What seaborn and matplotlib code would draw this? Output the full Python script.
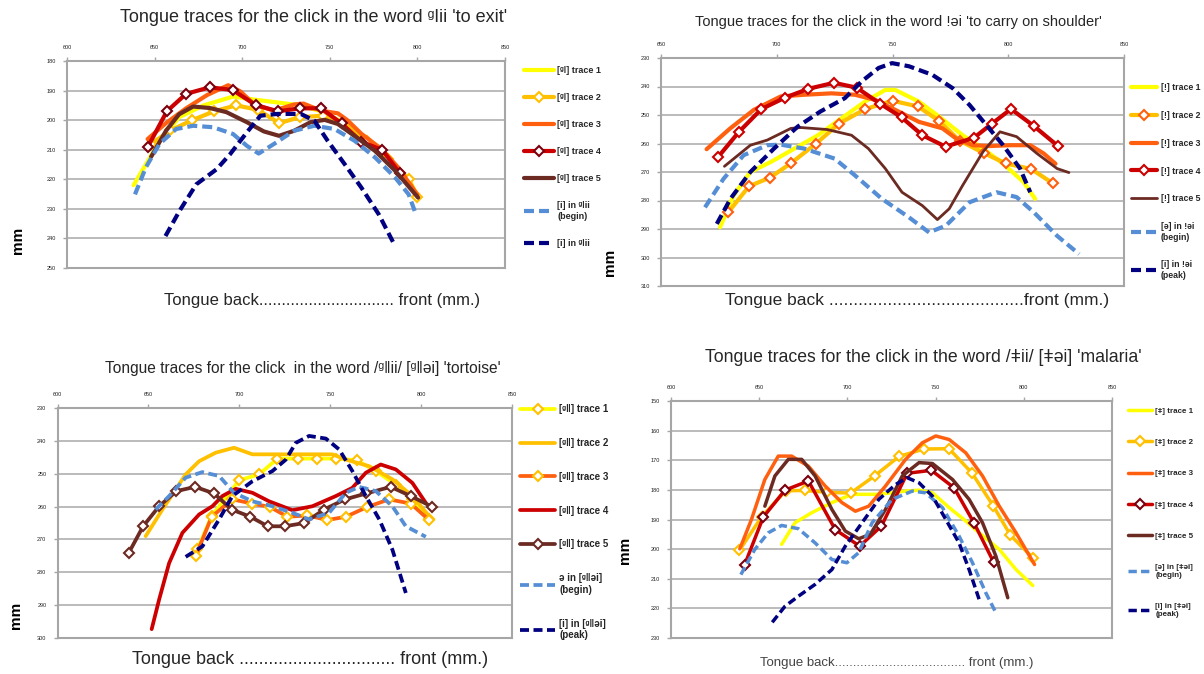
"""Four panels of tongue traces for click consonants"""

import seaborn as sns
import matplotlib.pyplot as plt

# ---- panel 1: word ᵍǀii 'to exit' ----
p1_t1_x = [638, 645, 653, 664, 678, 695, 706, 720, 733, 745, 755, 764, 776, 787, 795, 800]
p1_t1_y = [222, 215, 207, 199, 195, 192, 193, 194, 195, 197, 200, 204, 210, 215, 220, 225.5]
p1_t2_x = [648, 659, 671.5, 684, 696.5, 709, 721, 733, 746, 758, 771, 783, 795, 800]
p1_t2_y = [208, 203.5, 200, 197, 195, 196.5, 201, 199, 198.5, 201, 207, 213, 220, 226]
p1_t3_x = [646, 656.5, 668, 680, 692, 699, 706.5, 718, 729.6, 735, 745, 754.6, 760, 768, 779.6, 789, 800]
p1_t3_y = [206.4, 201, 196, 191.5, 188.2, 190.3, 194.5, 196.8, 194.7, 194.4, 196.8, 197.7, 200, 204.6, 209.8, 216, 225.2]
p1_t4_x = [646, 657, 668, 681.5, 694.5, 708, 720.5, 733, 745, 756.7, 768, 780, 790]
p1_t4_y = [209.2, 197, 191.1, 188.9, 189.8, 195, 197, 196, 196, 201.1, 207.3, 210.1, 218]
p1_t5_x = [648, 656.5, 664, 672, 681.5, 691, 702.7, 712.3, 721, 729.6, 739, 747, 754.6, 764, 775.8, 787.3, 800.4]
p1_t5_y = [212.4, 203.6, 198, 195.4, 195.9, 197.3, 200.7, 203.8, 205.3, 203.6, 200.7, 199.9, 201.3, 205.3, 210.4, 217.1, 226.2]
p1_begin_x = [638.8, 645, 652.7, 662.3, 672, 683.5, 694.8, 702.7, 709.4, 718, 729.6, 741.2, 752.7, 764.2, 775.8, 787.3, 795, 799.2]
p1_begin_y = [225.1, 216, 208.1, 203, 201.9, 202.4, 204.7, 208.7, 211.3, 208.1, 203.6, 201.9, 203, 207, 212.6, 219.4, 225.1, 231.9]
p1_peak_x = [656.2, 664.2, 673.8, 685.4, 693.1, 702.7, 710.4, 720, 733.5, 741.2, 748.8, 758.5, 768, 778, 787.3]
p1_peak_y = [239.2, 230.7, 221.7, 216.6, 211.5, 204.1, 198.5, 197.9, 197.9, 200.2, 207, 214.9, 222.8, 231.9, 242.6]

# ---- panel 2: word ǃəi 'to carry on shoulder' ----
p2_t1_x = [675.5, 681.4, 688.6, 697.4, 707.6, 717.8, 727.9, 738.1, 746.9, 751.2, 761.4, 770.2, 780.3, 789.1, 797.8, 806.6, 811.6]
p2_t1_y = [289.4, 278.2, 270, 266.5, 261.8, 257.1, 251.2, 245.3, 241.2, 241.2, 245.3, 250.6, 257.1, 261.8, 267.1, 273.5, 279.4]
p2_t2_x = [679, 688, 697, 706, 717, 727, 738, 750, 761, 770, 779, 789.5, 799, 810, 819.3]
p2_t2_y = [284.2, 275, 272, 267, 260, 253, 248, 245, 247, 252, 259, 263.4, 267, 269, 274]
p2_t3_x = [669.7, 679.9, 690.1, 701.7, 711.9, 723.6, 733.8, 742.5, 751.2, 761.4, 771.6, 777.4, 784.7, 792, 800.7, 809.5, 815.3, 820.4]
p2_t3_y = [262, 254.7, 248.2, 243.5, 242.9, 242.4, 242.9, 244.7, 248.2, 252.4, 254.7, 258.2, 260.6, 260.9, 260.6, 260.6, 263.5, 267.1]
p2_t4_x = [674.5, 683.7, 693.4, 703.6, 713.7, 724.7, 734.5, 744.8, 753.9, 762.9, 772.9, 785.2, 793, 801.2, 811.1, 821.5]
p2_t4_y = [264.9, 255.9, 247.9, 243.9, 240.8, 238.7, 240.4, 246.1, 250.8, 257.1, 261.1, 258, 253, 247.9, 253.9, 260.9]
p2_t5_x = [677.4, 688.6, 695.9, 706.1, 710.5, 721.8, 732.3, 739.6, 746.9, 754.1, 762.9, 769.4, 774.5, 780.3, 789.1, 796.4, 803.6, 812.4, 821.1, 826.2]
p2_t5_y = [268, 260.6, 258.8, 254.7, 254.4, 255.1, 257.1, 261.8, 268.8, 277.1, 281.8, 286.7, 282.9, 274.7, 262.9, 255.9, 257.6, 263.5, 268.8, 270.2]
p2_begin_x = [669, 677, 685.7, 695.9, 701.7, 711.9, 725, 733.8, 745.4, 757.1, 765.8, 773.1, 783.3, 794.9, 803.6, 811, 821.1, 830.6]
p2_begin_y = [282.4, 272.4, 264.1, 260.6, 260.4, 261.8, 265.3, 271.2, 279.4, 285.9, 291.2, 288.8, 280.6, 277.1, 278.8, 284.1, 292.4, 298.8]
p2_peak_x = [674.1, 680, 688.6, 698.8, 709, 718.8, 729.4, 736.7, 744, 749.8, 757.1, 767.2, 776, 783.3, 790.5, 797.8, 805.1, 809.5]
p2_peak_y = [288.2, 279.4, 270, 261.8, 254.1, 248.8, 244.1, 238.2, 233.5, 231.8, 232.9, 235.9, 240.6, 246.5, 253.5, 260.6, 268.8, 277.1]

# ---- panel 3: word ᵍǁii 'tortoise' ----
p3_t1_x = [677, 684.8, 699.9, 710.9, 721, 732.5, 742.6, 753.4, 764.6, 775, 786.1, 795.2, 804.4]
p3_t1_y = [273, 262.9, 252, 250.2, 245.4, 245.4, 245.4, 245.4, 245.9, 249.2, 253.3, 257.8, 263.7]
p3_t2_x = [648.5, 657.7, 670.5, 677.9, 687, 697.1, 707.2, 718.2, 732.9, 751.2, 758.6, 771.4, 784.2, 795.2, 804.4]
p3_t2_y = [269, 260.9, 250.2, 246.2, 243.6, 242.1, 244.1, 244.1, 244.1, 244.1, 245.7, 247.7, 251.7, 256.8, 262.9]
p3_t3_x = [676, 684.8, 696.2, 707.2, 716.8, 726.5, 737.5, 748.5, 758.6, 770.5, 782.4, 794.3, 804.4]
p3_t3_y = [275.1, 263.1, 257.8, 259.1, 260.1, 263.1, 262.7, 264.1, 263.1, 260.1, 257.8, 259.1, 264.1]
p3_t4_x = [651.8, 655.9, 661.4, 668.7, 677.9, 685.2, 690.7, 698, 707.2, 716.4, 729.2, 740.2, 753.1, 762.2, 769.6, 777.8, 786.1, 795.2, 802.6]
p3_t4_y = [297.3, 288.3, 277.2, 268, 262.4, 259.9, 256.8, 254.6, 255.8, 258.4, 261.1, 259.9, 256.8, 254.3, 249.7, 247.2, 248.7, 252.8, 258.9]
p3_t5_x = [639.2, 647.1, 655.9, 665.4, 675.7, 686.1, 695.8, 706.1, 715.7, 725, 735.8, 746.6, 758.2, 769.9, 783.3, 794.3, 806.2]
p3_t5_y = [274.1, 266, 259.9, 255.3, 254, 256, 260.9, 263.1, 266, 266, 265, 260.9, 257.8, 256, 254, 256.8, 260.1]
p3_begin_x = [654, 661.4, 670.5, 679.7, 688.9, 697.1, 707.2, 718.2, 729.2, 738.4, 749.4, 758.6, 765.9, 775.1, 784.2, 791.6, 802.6]
p3_begin_y = [260.9, 256.8, 251.2, 249.5, 250.7, 255.8, 258.4, 259.9, 261.9, 263.9, 261.9, 255.8, 254, 255.3, 259.9, 266, 269.2]
p3_peak_x = [670.5, 679.7, 688.9, 696.2, 707.2, 718.2, 725.6, 731.1, 738.4, 747.6, 754.9, 762.2, 769.6, 777, 784.2, 791.6]
p3_peak_y = [275.3, 272.1, 263.9, 256.8, 252.3, 249.2, 245.7, 240.6, 238.5, 239.3, 242.6, 249.2, 256.8, 263.9, 273.1, 286.3]

# ---- panel 4: word ǂii 'malaria' ----
p4_t1_x = [662.7, 670.3, 679.8, 691.2, 702.6, 717.8, 733, 740.6, 748.2, 757.7, 767.1, 774.7, 786.1, 795.6, 805.1]
p4_t1_y = [198.4, 191.1, 187.7, 184.3, 181.5, 181.5, 180.4, 180.1, 181, 186, 190.5, 194.5, 200.1, 206.9, 212.3]
p4_t2_x = [638.8, 651.5, 665, 675.8, 688.5, 701.8, 715.6, 729.3, 743.5, 757.6, 770.6, 782.7, 792.4, 805.2]
p4_t2_y = [200.4, 189, 180.3, 180.2, 180.8, 181.1, 175.2, 168.7, 166.2, 166.1, 174.3, 185.4, 195.3, 203]
p4_t3_x = [639, 645.6, 653.2, 660.8, 668.4, 677.9, 687.4, 696.9, 704.5, 712.1, 721.6, 733, 742.5, 750.1, 757.7, 767.1, 776.6, 786.1, 795.6, 806.1]
p4_t3_y = [199.9, 190, 176.5, 168.6, 168.6, 172, 178.7, 184.3, 187.2, 185.5, 178.7, 169.7, 164.1, 161.8, 163, 167.5, 175.3, 185.5, 194.5, 205.2]
p4_t4_x = [641.8, 652.3, 664.6, 677.9, 693.1, 707, 719.3, 733.9, 747.6, 760.5, 771.9, 782.9]
p4_t4_y = [205.2, 189.2, 180.1, 177, 193.4, 199, 192.2, 174.4, 173.4, 179.3, 191.3, 204.4]
p4_t5_x = [653.2, 658.9, 666.5, 674.1, 681.7, 691.2, 698.8, 706.4, 713, 721.6, 731.1, 740.6, 748.2, 759.6, 769, 776.6, 784.2, 790.9]
p4_t5_y = [185.5, 175.3, 169.7, 169.7, 175.3, 186.6, 193.9, 196.5, 195, 186.6, 175.3, 170.8, 171.1, 176.5, 183.2, 191.1, 202.4, 216.4]
p4_begin_x = [639.6, 647.5, 655.1, 662.7, 672.2, 681.7, 691.2, 699.7, 706.4, 714, 725.4, 736.8, 744.4, 753.9, 763.3, 770.9, 778.5, 784.2]
p4_begin_y = [208.6, 200.1, 194.5, 192, 193.1, 197.9, 203.5, 204.6, 201.2, 191.1, 183.2, 180.4, 181, 186, 195.6, 204.6, 214.8, 221.5]
p4_peak_x = [657.4, 664.6, 672.2, 681.7, 691.2, 698.8, 708.3, 717.8, 727.3, 733.9, 740.6, 748.2, 755.8, 763.3, 769, 774.7]
p4_peak_y = [224.7, 219.3, 215.9, 211.9, 206.9, 199, 191.1, 183.2, 178.2, 175.9, 177.6, 182.1, 190, 197.9, 206.9, 217]

# Colours used in the original spreadsheet charts
YELLOW = "#FFFF00"
GOLD = "#FFC000"
ORANGE = "#FF6010"
RED = "#CC0000"
DARKRED = "#7A0010"
BROWN = "#6B2A22"
LIGHTBLUE = "#558ED5"
NAVY = "#000080"
DASH = (0, (2.4, 1.2))

sns.set_style("white")
plt.rcParams["font.family"] = ["Liberation Sans", "DejaVu Sans"]

fig = plt.figure(figsize=(12.04, 6.74), dpi=100)


def px_rect(left, right, top, bottom):
    # axes rectangle from pixel edges of the 1204x674 picture
    return [left / 1204, 1 - bottom / 674, (right - left) / 1204, (bottom - top) / 674]


def trace(ax, x, y, label, color, lw, dashed=False, edge=None):
    kws = dict(color=color, linewidth=lw, label=label)
    if dashed:
        kws["linestyle"] = DASH
    if edge is not None:
        kws.update(marker="D", markersize=5, markerfacecolor="white",
                   markeredgecolor=edge, markeredgewidth=1.5)
    sns.lineplot(x=x, y=y, ax=ax, sort=False, estimator=None, legend=False, **kws)


def style_axes(ax, xlim, ylim, yticks, xticks):
    ax.set_xlim(*xlim)
    ax.set_ylim(ylim[1], ylim[0])
    ax.set_yticks(yticks)
    ax.set_xticks(xticks)
    ax.xaxis.tick_top()
    ax.tick_params(axis="both", labelsize=4, length=3, width=1, color="#A6A6A6",
                   direction="out", pad=5, labelcolor="#222222")
    ax.tick_params(axis="x", top=True, bottom=False)
    ax.tick_params(axis="y", left=True)
    ax.grid(axis="y", color="#B5B5B5", linewidth=1.3)
    ax.grid(axis="x", visible=False)
    for s in ax.spines.values():
        s.set_color("#A6A6A6")
        s.set_linewidth(1.5)
    ax.set_xlabel("")


def legend(ax, anchor, fs, spacing, hl):
    handles, labels = ax.get_legend_handles_labels()
    ax.legend(handles, labels, loc="upper left", bbox_to_anchor=anchor, frameon=False,
              prop={"weight": "bold", "size": fs}, handlelength=hl, handletextpad=0.4,
              labelspacing=spacing, borderpad=0, borderaxespad=0, numpoints=1)


def blob(ax, xy):
    ax.set_ylabel("mm", fontsize=11, fontweight="bold", color="black", rotation=90)
    ax.yaxis.set_label_coords(*xy)


# Panel 1
ax1 = fig.add_axes(px_rect(67, 505, 61, 268))
g = "[ᵍǀ]"
trace(ax1, p1_t1_x, p1_t1_y, g + " trace 1", YELLOW, 3.0)
trace(ax1, p1_t2_x, p1_t2_y, g + " trace 2", GOLD, 3.0, edge=GOLD)
trace(ax1, p1_t3_x, p1_t3_y, g + " trace 3", ORANGE, 3.0)
trace(ax1, p1_t4_x, p1_t4_y, g + " trace 4", RED, 3.0, edge=DARKRED)
trace(ax1, p1_t5_x, p1_t5_y, g + " trace 5", BROWN, 3.0)
trace(ax1, p1_begin_x, p1_begin_y, "[i] in ᵍǀii\n(begin)", LIGHTBLUE, 3.0, dashed=True)
trace(ax1, p1_peak_x, p1_peak_y, "[i] in ᵍǀii", NAVY, 3.0, dashed=True)
style_axes(ax1, (600, 850), (180, 250), range(180, 251, 10), range(600, 851, 50))
legend(ax1, (1.043, 0.975), 6.5, 2.0, 3.3)
blob(ax1, (-0.096, 0.135))
fig.text(314 / 1204, 1 - 17 / 674, "Tongue traces for the click in the word ᵍǀii 'to exit'",
         ha="center", va="center", fontsize=13)
fig.text(322 / 1204, 1 - 300 / 674, "Tongue back" + "." * 30 + " front (mm.)",
         ha="center", va="center", fontsize=12)

# Panel 2
ax2 = fig.add_axes(px_rect(661, 1124, 58, 286))
c = "[ǃ]"
trace(ax2, p2_t1_x, p2_t1_y, c + " trace 1", YELLOW, 3.0)
trace(ax2, p2_t2_x, p2_t2_y, c + " trace 2", GOLD, 3.0, edge=ORANGE)
trace(ax2, p2_t3_x, p2_t3_y, c + " trace 3", ORANGE, 3.0)
trace(ax2, p2_t4_x, p2_t4_y, c + " trace 4", RED, 3.0, edge=RED)
trace(ax2, p2_t5_x, p2_t5_y, c + " trace 5", BROWN, 2.0)
trace(ax2, p2_begin_x, p2_begin_y, "[ə] in ǃəi\n(begin)", LIGHTBLUE, 3.0, dashed=True)
trace(ax2, p2_peak_x, p2_peak_y, "[i] in ǃəi\n(peak)", NAVY, 3.0, dashed=True)
style_axes(ax2, (650, 850), (230, 310), range(230, 311, 10), range(650, 851, 50))
legend(ax2, (1.015, 0.89), 6.3, 2.15, 3.0)
blob(ax2, (-0.095, 0.105))
fig.text(898 / 1204, 1 - 22 / 674,
         "Tongue traces for the click in the word ǃəi 'to carry on shoulder'",
         ha="center", va="center", fontsize=10.5)
fig.text(917 / 1204, 1 - 300 / 674, "Tongue back " + "." * 40 + "front (mm.)",
         ha="center", va="center", fontsize=12.5)

# Panel 3
ax3 = fig.add_axes(px_rect(57.5, 512, 408, 638))
l = "[ᵍǁ]"
trace(ax3, p3_t1_x, p3_t1_y, l + " trace 1", YELLOW, 2.7, edge=GOLD)
trace(ax3, p3_t2_x, p3_t2_y, l + " trace 2", GOLD, 2.7)
trace(ax3, p3_t3_x, p3_t3_y, l + " trace 3", ORANGE, 2.7, edge=GOLD)
trace(ax3, p3_t4_x, p3_t4_y, l + " trace 4", RED, 2.7)
trace(ax3, p3_t5_x, p3_t5_y, l + " trace 5", BROWN, 2.7, edge=BROWN)
trace(ax3, p3_begin_x, p3_begin_y, "ə in [ᵍǁəi]\n(begin)", LIGHTBLUE, 2.7, dashed=True)
trace(ax3, p3_peak_x, p3_peak_y, "[i] in [ᵍǁəi]\n(peak)", NAVY, 2.7, dashed=True)
style_axes(ax3, (600, 850), (230, 300), range(230, 301, 10), range(600, 851, 50))
legend(ax3, (1.018, 1.017), 7, 2.45, 3.6)
blob(ax3, (-0.076, 0.1))
fig.text(303 / 1204, 1 - 368 / 674,
         "Tongue traces for the click  in the word /ᵍǁii/ [ᵍǁəi] 'tortoise'",
         ha="center", va="center", fontsize=11.2)
fig.text(310 / 1204, 1 - 660 / 674, "Tongue back " + "." * 32 + " front (mm.)",
         ha="center", va="center", fontsize=13)

# Panel 4
ax4 = fig.add_axes(px_rect(671, 1112, 401, 638))
p = "[ǂ]"
trace(ax4, p4_t1_x, p4_t1_y, p + " trace 1", YELLOW, 2.5)
trace(ax4, p4_t2_x, p4_t2_y, p + " trace 2", GOLD, 2.5, edge=GOLD)
trace(ax4, p4_t3_x, p4_t3_y, p + " trace 3", ORANGE, 2.5)
trace(ax4, p4_t4_x, p4_t4_y, p + " trace 4", RED, 2.5, edge=DARKRED)
trace(ax4, p4_t5_x, p4_t5_y, p + " trace 5", BROWN, 2.5)
trace(ax4, p4_begin_x, p4_begin_y, "[ə] in [ǂəi]\n(begin)", LIGHTBLUE, 2.5, dashed=True)
trace(ax4, p4_peak_x, p4_peak_y, "[i] in [ǂəi]\n(peak)", NAVY, 2.5, dashed=True)
style_axes(ax4, (600, 850), (150, 230), range(150, 231, 10), range(600, 851, 50))
legend(ax4, (1.036, 0.975), 5.8, 2.95, 3.0)
blob(ax4, (-0.088, 0.37))
fig.text(923 / 1204, 1 - 357 / 674,
         "Tongue traces for the click in the word /ǂii/ [ǂəi] 'malaria'",
         ha="center", va="center", fontsize=12.7)
fig.text(897 / 1204, 1 - 663 / 674, "Tongue back" + "." * 36 + " front (mm.)",
         ha="center", va="center", fontsize=9.5, color="#444444")

fig.savefig("out.png", dpi=100)
